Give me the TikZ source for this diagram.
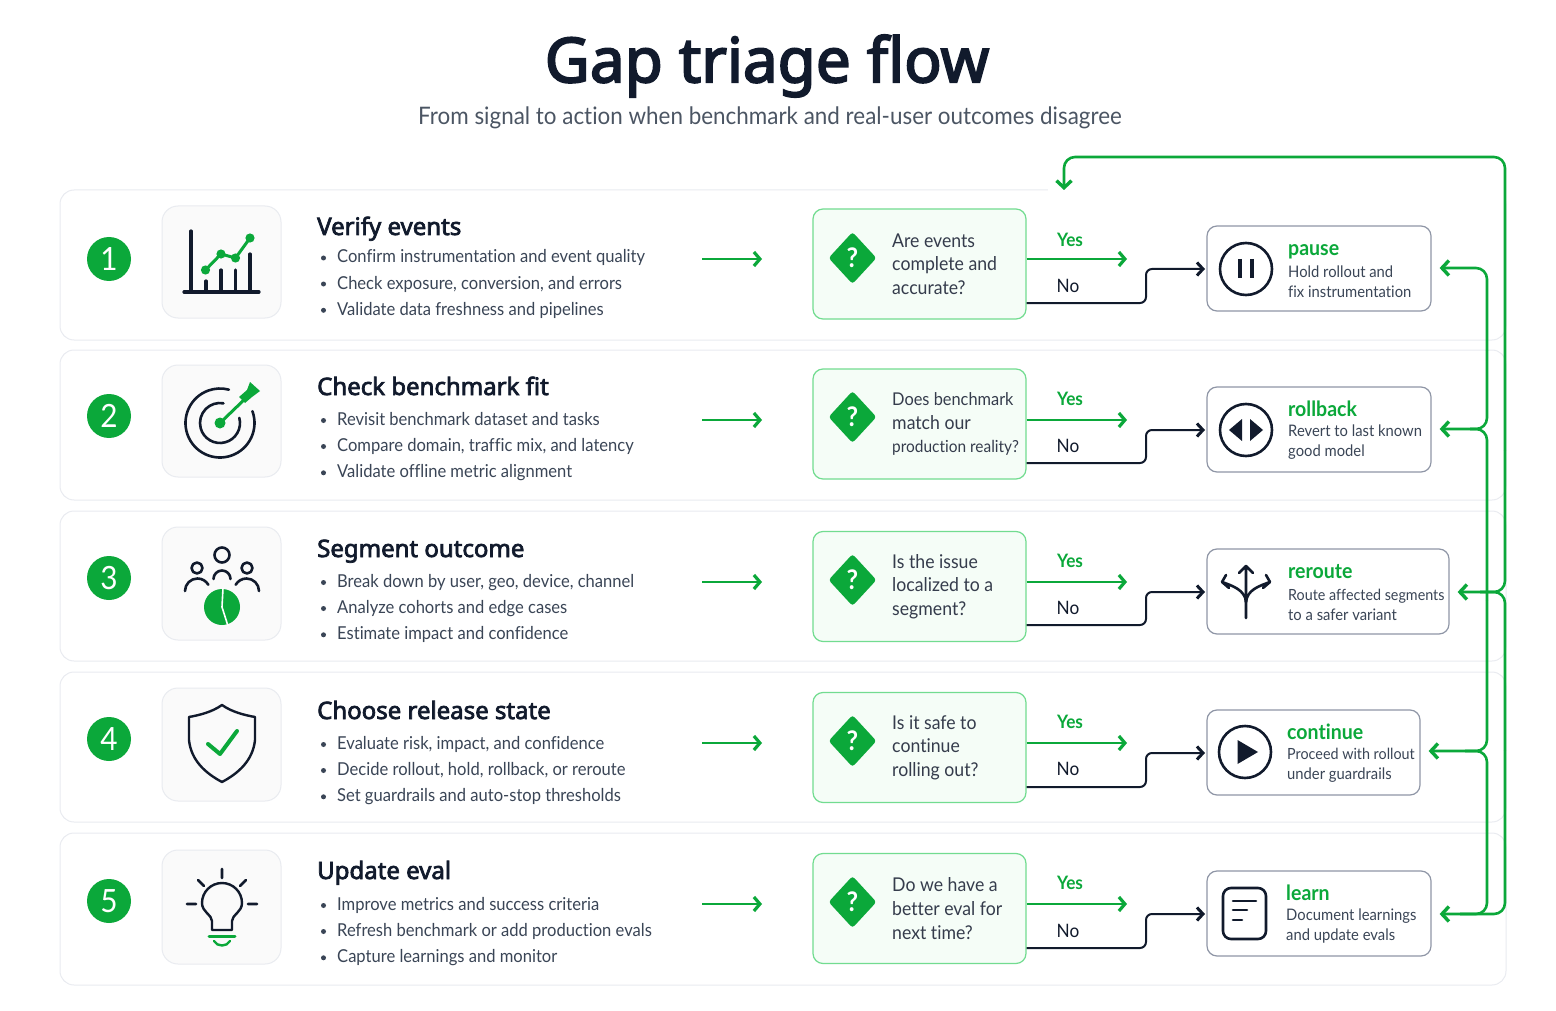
\documentclass[tikz,border=0pt]{standalone}
\usepackage{fontspec}
\setmainfont[FakeStretch=0.93,Ligatures=NoCommon]{Lato}
\newfontfamily\headfont[FakeBold=3]{Noto Sans}
\usetikzlibrary{arrows.meta,shapes.geometric}
\definecolor{gapgreen}{HTML}{0BA83A}
\definecolor{gapink}{HTML}{111A2C}
\definecolor{gapbody}{HTML}{3A4556}
\definecolor{gapsub}{HTML}{4B5563}
\definecolor{gapline}{HTML}{E9EBF0}
\definecolor{gapmint}{HTML}{F5FDF7}
\definecolor{gapmintline}{HTML}{72DC90}
\definecolor{gapslate}{HTML}{8F96A6}
\newcommand{\fsize}[1]{\fontsize{#1}{#1}\selectfont}
\tikzset{
  card/.style={draw=gapline,line width=1pt,rounded corners=14pt,fill=white,minimum width=1446pt,inner sep=0pt},
  numdot/.style={circle,fill=gapgreen,text=white,minimum size=44pt,inner sep=0pt,font=\fsize{32}},
  iconbox/.style={draw=gapline,line width=1pt,rounded corners=16pt,fill=black!2,minimum width=119pt,inner sep=0pt},
  steptitle/.style={anchor=base west,inner sep=0pt,text=gapink,font=\headfont\fsize{24}},
  bullets/.style={anchor=west,inner sep=0pt,text=gapbody,align=left,font=\fontsize{17.8}{26.3}\selectfont},
  qbox/.style={draw=gapmintline,line width=1.2pt,rounded corners=10pt,fill=gapmint,minimum width=213pt,minimum height=110pt,inner sep=0pt},
  qtext/.style={anchor=west,inner sep=0pt,text=gapink!85,align=left,font=\fontsize{19}{23.6}\selectfont},
  qmark/.style={diamond,fill=gapgreen,text=white,rounded corners=3pt,minimum width=48pt,minimum height=52pt,inner sep=0pt,font=\fsize{27}\bfseries},
  yeslab/.style={inner sep=0pt,text=gapgreen,font=\fsize{18.5}\bfseries},
  nolab/.style={inner sep=0pt,text=gapink,font=\fsize{18.5}},
  outbox/.style={draw=gapslate,line width=1.2pt,rounded corners=10pt,fill=white,minimum height=85pt,inner sep=0pt},
  outtitle/.style={anchor=base west,inner sep=0pt,text=gapgreen,font=\fsize{21}\bfseries},
  outtext/.style={anchor=west,inner sep=0pt,text=gapbody,align=left,font=\fontsize{15.9}{20}\selectfont},
  glyph/.style={draw=gapink,line width=2.6pt,line cap=round,line join=round},
  gglyph/.style={draw=gapgreen,line width=3pt,line cap=round,line join=round},
  go/.style={draw=gapgreen,line width=2.8pt,-{Straight Barb[length=6pt,width=14pt,line width=3.2pt]}},
  stay/.style={draw=gapink,line width=2pt,rounded corners=6pt,-{Straight Barb[length=6pt,width=13pt,line width=3pt]}},
  back/.style={draw=gapgreen,line width=2.6pt,rounded corners=11pt},
  backtip/.style={back,-{Straight Barb[length=7pt,width=15pt,line width=3.4pt]},shorten >=8pt},
}
\begin{document}
\begin{tikzpicture}[x=1pt,y=-1pt]
  \useasboundingbox (0,0) rectangle (1556,1011);

  \node[inner sep=0pt,text=gapink,font=\headfont\fsize{62}] (title) at (767,66) {Gap triage flow};
  \node[inner sep=0pt,text=gapsub,font=\fsize{24.1}] (subtitle) at (770,117.5) {From signal to action when benchmark and real-user outcomes disagree};

  % cards, number dots and icon boxes
  \foreach \n/\cy/\ch/\ny/\iy/\ih in {1/265/150/259/262/112, 2/425/150/416/421/112, 3/586/150/578/583.5/113, 4/747/150/739/744.5/113, 5/909/152/901/907/114}{
    \node[card,minimum height=\ch pt] (card\n) at (783,\cy) {};
    \node[numdot] (num\n) at (109,\ny) {\n};
    \node[iconbox,minimum height=\ih pt] (icon\n) at (221.5,\iy) {};
  }
  \fill[white] (1048,187) rectangle (1510,200);

  % left hand texts
  \foreach \n/\ty/\by/\ttl/\la/\lb/\lc in {
    1/235/284/Verify events/Confirm instrumentation and event quality/{Check exposure, conversion, and errors}/Validate data freshness and pipelines,
    2/395/446.5/Check benchmark fit/Revisit benchmark dataset and tasks/{Compare domain, traffic mix, and latency}/Validate offline metric alignment,
    3/557/608.5/Segment outcome/{Break down by user, geo, device, channel}/Analyze cohorts and edge cases/Estimate impact and confidence,
    4/719/770.5/Choose release state/{Evaluate risk, impact, and confidence}/{Decide rollout, hold, rollback, or reroute}/Set guardrails and auto-stop thresholds,
    5/879/931.5/Update eval/Improve metrics and success criteria/Refresh benchmark or add production evals/Capture learnings and monitor}{
    \node[steptitle] (head\n) at (317,\ty) {\ttl};
    \node[bullets] (list\n) at (337,\by) {\la\\\lb\\\lc};
    \fill[gapbody] (323.5,\by-26) circle (2.5) (323.5,\by) circle (2.5) (323.5,\by+26.3) circle (2.5);
  }

  % decisions
  \foreach \n/\ry/\qy/\my/\tq/\yy/\ny/\fy/\oy in {
    1/259/264/258/{Are events\\complete and\\accurate?}/240/286/303/269,
    2/420/424/417/{\fontsize{17.6}{23.6}\selectfont Does benchmark\\match our\\\fontsize{16.6}{23.6}\selectfont production reality?}/399/446/463/430,
    3/582/586.5/580/{Is the issue\\localized to a\\segment?}/561/608/625/592,
    4/743/747.5/741/{Is it safe to\\continue\\rolling out?}/722/769/787/753,
    5/904/908.5/902/{Do we have a\\better eval for\\next time?}/883/931/948/914}{
    \coordinate (from\n) at (702,\ry);
    \coordinate (into\n) at (762,\ry);
    \draw[go] (from\n) -- (into\n);
    \node[qbox] (q\n) at (919.5,\qy) {};
    \node[qmark] (mark\n) at (852.5,\my) {?};
    \node[qtext] (qt\n) at (892,\qy) {\tq};
    \node[yeslab] (yes\n) at (1070,\yy) {Yes};
    \node[nolab] (no\n) at (1068,\ny) {No};
    \coordinate (yesend\n) at (1127,\ry);
    \coordinate (bend\n) at (1146,\fy);
    \coordinate (up\n) at (1146,\oy);
    \coordinate (noend\n) at (1205,\oy);
    \draw[go] (q\n.east |- yesend\n) -- (yesend\n);
    \draw[stay] (q\n.east |- bend\n) -- (bend\n) -- (up\n) -- (noend\n);
  }

  % outcomes
  \foreach \n/\ox/\ow/\oy/\tx/\tout/\dout in {
    1/1319/224/268.5/1288/pause/{Hold rollout and\\fix instrumentation},
    2/1319/224/429.5/1288/rollback/{Revert to last known\\good model},
    3/1328/242/591.5/1288/reroute/{\fontsize{15.4}{20}\selectfont Route affected segments\\to a safer variant},
    4/1313.5/213/752.5/1287/continue/{\fontsize{15.4}{20}\selectfont Proceed with rollout\\under guardrails},
    5/1319/224/913.5/1286/learn/{Document learnings\\and update evals}}{
    \node[outbox,minimum width=\ow pt] (o\n) at (\ox,\oy) {};
    \node[outtitle] (ot\n) at (\tx,\oy-13.5) {\tout};
    \node[outtext] (od\n) at (\tx,\oy+13) {\dout};
  }

  % feedback lines
  \coordinate (topr) at (1505,157);
  \coordinate (topl) at (1064,157);
  \coordinate (topend) at (1064,190);
  \coordinate (outerh) at (1505,450);
  \coordinate (outerm) at (1505,750);
  \coordinate (outer3) at (1505,592);
  \coordinate (outer5) at (1505,914);
  \coordinate (innera) at (1487,350);
  \coordinate (innerb) at (1487,600);
  \coordinate (innerc) at (1487,830);
  \coordinate (inner1) at (1487,268);
  \coordinate (inner2) at (1487,429);
  \coordinate (inner4) at (1487,751);
  \coordinate (inner5) at (1487,914);
  \draw[backtip,shorten >=0pt] (outerh) -- (topr) -- (topl) -- (topend);
  \draw[backtip] (outerh) -- (outer3) -- (o3.east |- outer3);
  \draw[back] (outerm) -- (outer3) -- (1480,592);
  \draw[backtip] (outerm) -- (outer5) -- (o5.east |- outer5);
  \draw[backtip] (innera) -- (inner1) -- (o1.east |- inner1);
  \draw[backtip] (innera) -- (inner2) -- (o2.east |- inner2);
  \draw[back] (innerb) -- (inner2) -- (1470,429);
  \draw[backtip] (innerb) -- (inner4) -- (o4.east |- inner4);
  \draw[back] (innerc) -- (inner4) -- (1465,751);
  \draw[back] (innerc) -- (inner5) -- (1460,914);

  % icon 1
  \draw[glyph,line width=3.2pt] (191,231) -- (191,292) (184,292) -- (259,292);
  \draw[glyph,line width=3.2pt] (206,281) -- (206,292) (221,270) -- (221,292) (235.5,270) -- (235.5,292) (250,254) -- (250,292);
  \draw[gglyph] (205.5,270) -- (221,254) -- (235.5,258) -- (250,238);
  \fill[gapgreen] (205.5,270) circle (4.6) (221,254) circle (4.6) (235.5,258) circle (4.6) (250,238) circle (4.6);

  % icon 2
  \draw[glyph] (220,423) ++(-20:34.5) arc (-20:285:34.5);
  \draw[glyph] (220,423) ++(-15:20) arc (-15:280:20);
  \draw[gglyph] (220,423) -- (247,397);
  \fill[gapgreen] (220,423) circle (5.5);
  \fill[gapgreen] (250,382) -- (260,391) -- (252,397) -- (245,403) -- (239,397) -- (247,390) -- cycle;

  % icon 3
  \draw[glyph] (222,555) circle (7.5) (197,568) circle (5.5) (247,568) circle (5.5);
  \draw[glyph] (213.5,579) arc (180:360:8.5);
  \draw[glyph] (185,591) arc (180:330:12.5);
  \draw[glyph] (259,591) arc (0:-150:12.5);
  \fill[gapgreen] (222,607) circle (18);
  \draw[white,line width=1.6pt] (223,588) -- (222,607) -- (228,626);

  % icon 4
  \draw[glyph,line width=2.4pt] (222,705) .. controls (212,712) and (200,715) .. (189,717) -- (189,740) .. controls (191,760) and (205,773) .. (222,782) .. controls (239,773) and (253,760) .. (255,740) -- (255,717) .. controls (244,715) and (232,712) .. (222,705) -- cycle;
  \draw[gglyph,line width=4pt] (208,744) -- (220,754) -- (237,731);

  % icon 5
  \draw[glyph,line width=2.4pt] (212,921) .. controls (212,915) and (202,912) .. (202,903) arc (180:360:20) .. controls (242,912) and (232,915) .. (232,921) -- (232,930) -- (212,930) -- cycle;
  \draw[glyph] (222,869) -- (222,878) (198,880) -- (204,886) (246,880) -- (240,886) (187,904) -- (196,904) (248,904) -- (257,904);
  \draw[gglyph] (209,936) -- (235,936);
  \draw[gglyph,line width=2.4pt] (214,941) .. controls (217,947) and (227,947) .. (230,941);

  % pause
  \draw[glyph] (1246,269) circle (26);
  \draw[glyph,line width=4pt,line cap=butt] (1240,259) -- (1240,278) (1252,259) -- (1252,278);

  % rollback
  \draw[glyph] (1246,430) circle (26);
  \fill[gapink] (1229,430) -- (1242,419) -- (1242,441) -- cycle (1263,430) -- (1250,419) -- (1250,441) -- cycle;

  % reroute
  \draw[glyph] (1246,618) -- (1246,566) (1239,573) -- (1246,566) -- (1253,573);
  \draw[glyph] (1246,602) .. controls (1245,590) and (1233,586) .. (1222,582) (1226,575) -- (1222,582) -- (1229,588);
  \draw[glyph] (1246,602) .. controls (1247,590) and (1259,586) .. (1270,582) (1266,575) -- (1270,582) -- (1263,588);

  % continue
  \draw[glyph] (1245,752) circle (26);
  \fill[gapink] (1237.5,740) -- (1258,752) -- (1237.5,764) -- cycle;

  % learn
  \draw[glyph,rounded corners=8pt] (1223,888) rectangle (1266,939);
  \draw[glyph] (1233,901) -- (1256,901) (1233,910) -- (1247,910) (1233,920) -- (1242,920);
\end{tikzpicture}
\end{document}
